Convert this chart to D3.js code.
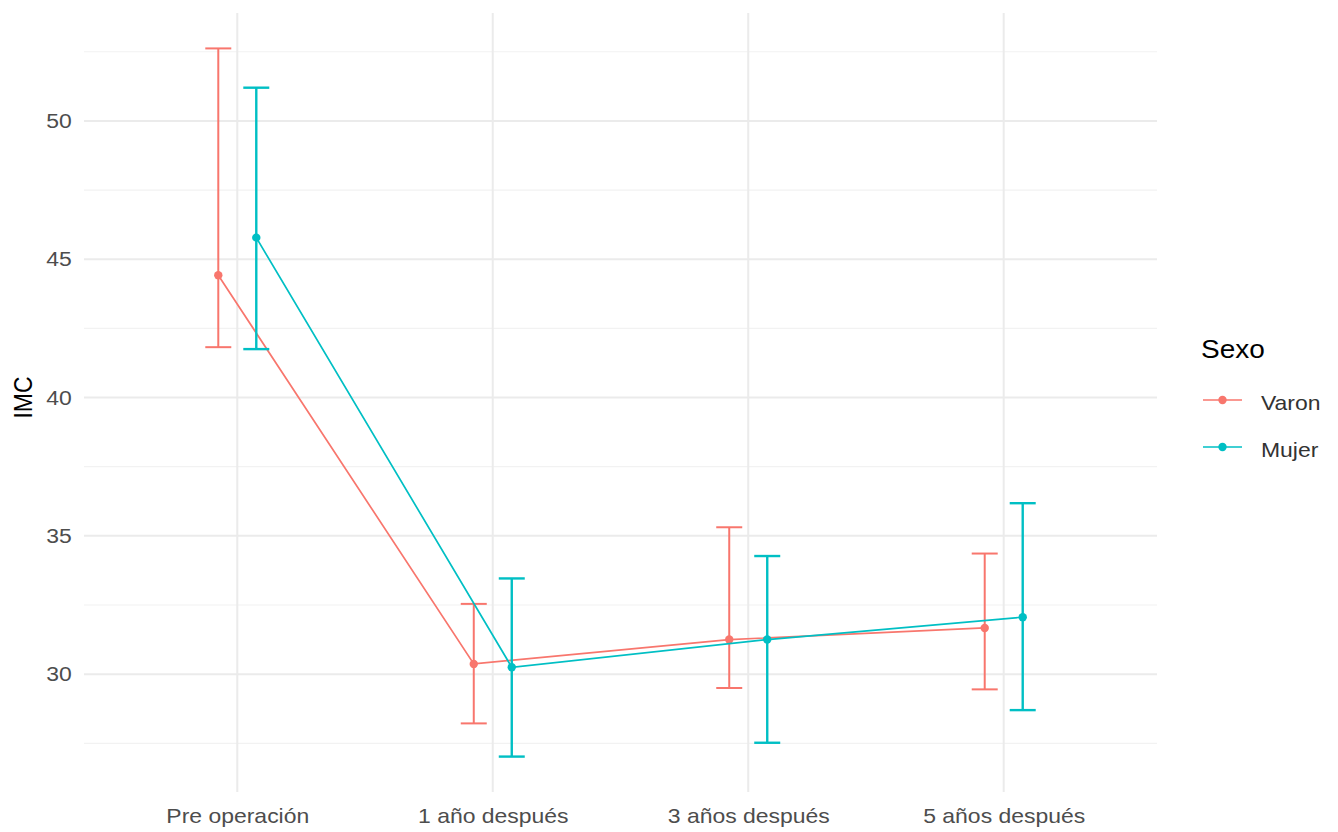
<!DOCTYPE html>
<html>
<head>
<meta charset="utf-8">
<script src="https://cdn.jsdelivr.net/npm/d3@7"></script>
<style>
  html, body { margin: 0; padding: 0; background: #fff; }
  svg { display: block; }
  text { font-family: "Liberation Sans", Arial, sans-serif; }
</style>
</head>
<body>
<script>
// ---- Data ----
const categories = ["Pre operación", "1 año después", "3 años después", "5 años después"];
const seriesNames = ["Varon", "Mujer"];
const seriesColors = ["#F8766D", "#00BFC4"];
const varonMean  = [44.42, 30.37, 31.25, 31.67];
const varonLower = [41.82, 28.22, 29.50, 29.45];
const varonUpper = [52.62, 32.54, 35.31, 34.36];
const mujerMean  = [45.78, 30.25, 31.25, 32.06];
const mujerLower = [41.75, 27.02, 27.52, 28.70];
const mujerUpper = [51.20, 33.46, 34.27, 36.18];
const yTicks = [30, 35, 40, 45, 50];
const yMinorTicks = [27.5, 32.5, 37.5, 42.5, 47.5, 52.5];
const yLabel = "IMC";
const legendTitle = "Sexo";

const series = [
  { name: seriesNames[0], color: seriesColors[0], mean: varonMean, lo: varonLower, hi: varonUpper, ew: 2 },
  { name: seriesNames[1], color: seriesColors[1], mean: mujerMean, lo: mujerLower, hi: mujerUpper, ew: 2.4 }
];

const W = 1338, H = 832;
const panel = { left: 84, right: 1157, top: 13, bottom: 792 };
const SX = 1.12; // horizontal text stretch seen in the reference

const svg = d3.select("body").append("svg").attr("width", W).attr("height", H);

// scales
const allVals = varonLower.concat(varonUpper, mujerLower, mujerUpper);
const ymin = d3.min(allVals), ymax = d3.max(allVals);
const pad = (ymax - ymin) * 0.05;
const y = d3.scaleLinear().domain([ymin - pad, ymax + pad]).range([panel.bottom, panel.top]);

// discrete x with ggplot-like 0.6 expansion
const x = d3.scalePoint().domain(categories).range([panel.left, panel.right]).padding(0.6);
const dx = name => name === seriesNames[0] ? -19 : 19;
const capHalf = 13;

// grid
const g = svg.append("g");
g.selectAll(".minor").data(yMinorTicks).enter().append("line")
  .attr("x1", panel.left).attr("x2", panel.right)
  .attr("y1", d => y(d)).attr("y2", d => y(d))
  .attr("stroke", "#F2F2F2").attr("stroke-width", 1.2);
g.selectAll(".major").data(yTicks).enter().append("line")
  .attr("x1", panel.left).attr("x2", panel.right)
  .attr("y1", d => y(d)).attr("y2", d => y(d))
  .attr("stroke", "#EBEBEB").attr("stroke-width", 2);
g.selectAll(".vmajor").data(categories).enter().append("line")
  .attr("x1", d => x(d)).attr("x2", d => x(d))
  .attr("y1", panel.top).attr("y2", panel.bottom)
  .attr("stroke", "#EBEBEB").attr("stroke-width", 2);

// y axis labels
const yAxis = d3.axisLeft(y).tickValues(yTicks).tickSize(0).tickPadding(11);
const ya = svg.append("g").attr("transform", `translate(${panel.left},0)`).call(yAxis);
ya.select(".domain").remove();
ya.selectAll("text").attr("font-size", 20.5).attr("fill", "#4D4D4D")
  .attr("font-family", "Liberation Sans, Arial, sans-serif")
  .attr("transform", `scale(${SX},1)`);

// x axis labels
const xAxis = d3.axisBottom(x).tickSize(0).tickPadding(16);
const xa = svg.append("g").attr("transform", `translate(0,${panel.bottom})`).call(xAxis);
xa.select(".domain").remove();
xa.selectAll("text").attr("font-size", 20.5).attr("fill", "#4D4D4D")
  .attr("font-family", "Liberation Sans, Arial, sans-serif")
  .attr("transform", `scale(${SX},1)`);

// y title
svg.append("text").attr("transform", `translate(31.5,${y(40)}) scale(${SX},1) rotate(-90)`)
  .attr("text-anchor", "middle").attr("font-size", 23).attr("fill", "#000").text(yLabel);

// series
series.forEach(s => {
  const pts = categories.map((c, i) => ({ x: x(c) + dx(s.name), m: s.mean[i], lo: s.lo[i], hi: s.hi[i] }));
  const sg = svg.append("g");
  pts.forEach(p => {
    sg.append("line").attr("x1", p.x).attr("x2", p.x).attr("y1", y(p.lo)).attr("y2", y(p.hi))
      .attr("stroke", s.color).attr("stroke-width", s.ew);
    sg.append("line").attr("x1", p.x - capHalf).attr("x2", p.x + capHalf).attr("y1", y(p.hi)).attr("y2", y(p.hi))
      .attr("stroke", s.color).attr("stroke-width", s.ew);
    sg.append("line").attr("x1", p.x - capHalf).attr("x2", p.x + capHalf).attr("y1", y(p.lo)).attr("y2", y(p.lo))
      .attr("stroke", s.color).attr("stroke-width", s.ew);
  });
  sg.append("path").datum(pts)
    .attr("d", d3.line().x(p => p.x).y(p => y(p.m)))
    .attr("fill", "none").attr("stroke", s.color).attr("stroke-width", 1.7);
  sg.selectAll("circle").data(pts).enter().append("circle")
    .attr("cx", p => p.x).attr("cy", p => y(p.m)).attr("r", 4.2).attr("fill", s.color);
});

// legend
const lg = svg.append("g");
lg.append("text").attr("transform", `translate(1201,358) scale(${SX},1)`)
  .attr("font-size", 25).attr("fill", "#000").text(legendTitle);
series.forEach((s, i) => {
  const ly = 400 + i * 47;
  lg.append("line").attr("x1", 1203).attr("x2", 1242).attr("y1", ly).attr("y2", ly)
    .attr("stroke", s.color).attr("stroke-width", 1.7);
  lg.append("circle").attr("cx", 1222.5).attr("cy", ly).attr("r", 4.2).attr("fill", s.color);
  lg.append("text").attr("transform", `translate(1261,${ly + 10}) scale(${SX},1)`)
    .attr("font-size", 20.5).attr("fill", "#333").text(s.name);
});
</script>
</body>
</html>
